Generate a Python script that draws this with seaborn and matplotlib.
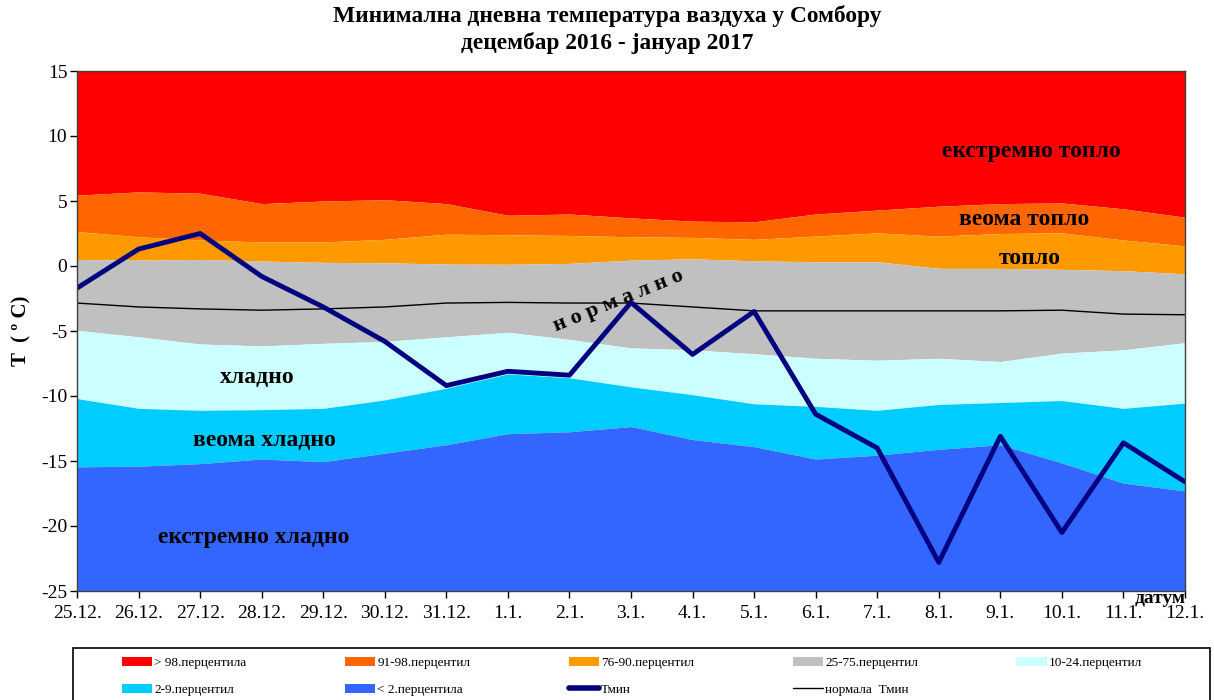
import numpy as np
import pandas as pd
import seaborn as sns
import matplotlib.pyplot as plt
from matplotlib.patches import Patch, Rectangle
from matplotlib.lines import Line2D

# dates on the x axis
dates = ["25.12.", "26.12.", "27.12.", "28.12.", "29.12.", "30.12.", "31.12.",
         "1.1.", "2.1.", "3.1.", "4.1.", "5.1.", "6.1.", "7.1.", "8.1.",
         "9.1.", "10.1.", "11.1.", "12.1."]

# observed minimum temperature
tmin = [-1.7, 1.3, 2.5, -0.8, -3.15, -5.8, -9.2, -8.1, -8.4, -2.8,
        -6.8, -3.5, -11.4, -14.0, -22.8, -13.1, -20.5, -13.6, -16.6]

# normal Tmin
normal = [-2.85, -3.15, -3.3, -3.4, -3.3, -3.15, -2.85, -2.8, -2.85, -2.85,
          -3.15, -3.45, -3.45, -3.45, -3.45, -3.45, -3.4, -3.7, -3.75]

# percentile boundaries
p98 = [5.45, 5.7, 5.6, 4.8, 5.0, 5.1, 4.8, 3.9, 4.0, 3.7,
       3.45, 3.4, 4.0, 4.3, 4.6, 4.8, 4.85, 4.4, 3.75]
p90 = [2.65, 2.25, 2.0, 1.85, 1.85, 2.05, 2.45, 2.4, 2.35, 2.25,
       2.2, 2.05, 2.3, 2.55, 2.3, 2.5, 2.55, 2.0, 1.55]
p75 = [0.5, 0.45, 0.5, 0.38, 0.28, 0.25, 0.15, 0.13, 0.2, 0.45,
       0.55, 0.4, 0.33, 0.33, -0.18, -0.18, -0.26, -0.36, -0.6]
p24 = [-4.95, -5.45, -6.0, -6.15, -5.95, -5.8, -5.45, -5.1, -5.65, -6.3,
       -6.45, -6.75, -7.1, -7.25, -7.1, -7.35, -6.7, -6.45, -5.9]
p9 = [-10.2, -10.95, -11.1, -11.05, -10.95, -10.3, -9.4, -8.3, -8.6, -9.3,
      -9.9, -10.6, -10.8, -11.1, -10.65, -10.5, -10.35, -10.95, -10.55]
p2 = [-15.45, -15.4, -15.2, -14.85, -15.05, -14.4, -13.75, -12.9, -12.75, -12.35,
      -13.35, -13.9, -14.85, -14.55, -14.1, -13.75, -15.15, -16.7, -17.3]

ymin, ymax = -25, 15

df = pd.DataFrame({"x": np.arange(len(dates)), "tmin": tmin, "normal": normal})

sns.set_style("white")
plt.rcParams['font.family'] = ['Liberation Serif', 'DejaVu Serif']
plt.rcParams['text.color'] = 'black'
plt.rcParams['axes.labelcolor'] = 'black'
plt.rcParams['xtick.color'] = 'black'
plt.rcParams['ytick.color'] = 'black'

fig = plt.figure(figsize=(12.14, 7.0), dpi=100)
ax = fig.add_axes([77 / 1214, 109 / 700, 1108 / 1214, 520 / 700])

x = df["x"]
bands = [
    (p98, [ymax] * len(dates), "#FF0000", "> 98.перцентила"),
    (p90, p98, "#FF6600", "91-98.перцентил"),
    (p75, p90, "#FF9900", "76-90.перцентил"),
    (p24, p75, "#C0C0C0", "25-75.перцентил"),
    (p9, p24, "#CCFFFF", "10-24.перцентил"),
    (p2, p9, "#00CCFF", "2-9.перцентил"),
    ([ymin] * len(dates), p2, "#3366FF", "< 2.перцентила"),
]
for lo, hi, col, lab in bands:
    ax.fill_between(x, lo, hi, color=col, linewidth=0)

sns.lineplot(data=df, x="x", y="normal", color="black", linewidth=1.0, ax=ax)
sns.lineplot(data=df, x="x", y="tmin", color="#000080", linewidth=3.5, ax=ax)

ax.set_xlim(0, len(dates) - 1)
ax.set_ylim(ymin, ymax)
ax.set_xticks(range(len(dates)))
ax.set_xticklabels(dates, fontsize=14)
ax.set_yticks(range(ymin, ymax + 1, 5))
ax.set_yticklabels([str(v) for v in range(ymin, ymax + 1, 5)], fontsize=14)
ax.tick_params(axis="both", direction="out", length=5, width=1, color="black",
               bottom=True, left=True)
ax.tick_params(axis="x", pad=5)
ax.tick_params(axis="y", pad=2)
ax.set_xlabel("")
ax.set_ylabel("T  ( º C)", fontsize=15, fontweight="bold", labelpad=7)
for sp in ax.spines.values():
    sp.set_color("#404040")
    sp.set_linewidth(1)

# zone labels
lbl = dict(fontsize=17, fontweight="bold", ha="center", va="center", color="black")
ax.text(15.5, 8.8, "екстремно топло", **lbl)
ax.text(15.38, 3.55, "веома топло", **lbl)
ax.text(15.48, 0.6, "топло", **lbl)
ax.text(2.92, -8.6, "хладно", **lbl)
ax.text(3.04, -13.4, "веома хладно", **lbl)
ax.text(2.87, -20.9, "екстремно хладно", **lbl)
ax.text(8.8, -2.7, "н о р м а л н о", fontsize=16, fontweight="bold",
        ha="center", va="center", rotation=22)
ax.text(17.6, -25.6, "датум", fontsize=14, fontweight="bold", ha="center",
        va="center", clip_on=False, zorder=5)

fig.text(0.5, 1 - 16 / 700, "Минимална дневна температура ваздуха у Сомбору",
         fontsize=16.8, fontweight="bold", ha="center", va="center")
fig.text(0.5, 1 - 43 / 700, "децембар 2016 - јануар 2017",
         fontsize=16.8, fontweight="bold", ha="center", va="center")

# legend box frame (cut off at the bottom like in the original)
fig.add_artist(Rectangle((73 / 1214, -0.02), 1137 / 1214, 52 / 700 + 0.02,
                         transform=fig.transFigure, fill=False,
                         edgecolor="black", linewidth=1.2))

# legend, laid out row by row
patches = [Patch(facecolor=c, edgecolor="none", label=l) for _, _, c, l in bands]
tline = Line2D([], [], color="#000080", linewidth=4, label="Тмин")
nline = Line2D([], [], color="black", linewidth=1, label="нормала  Тмин")
row1 = patches[:5]
row2 = patches[5:] + [tline, nline]
handles = []
for i in range(5):
    handles.append(row1[i])
    if i < len(row2):
        handles.append(row2[i])
leg = fig.legend(handles=handles, labels=[h.get_label() for h in handles],
                 loc="upper left", bbox_to_anchor=(122 / 1214, 0, 1020 / 1214, 1 - 657 / 700),
                 mode="expand", ncol=5, fontsize=9.5, frameon=False,
                 handlelength=2.3, handleheight=0.7, handletextpad=0.15,
                 borderpad=0, labelspacing=1.1, borderaxespad=0)

fig.savefig("out.png", dpi=100)
